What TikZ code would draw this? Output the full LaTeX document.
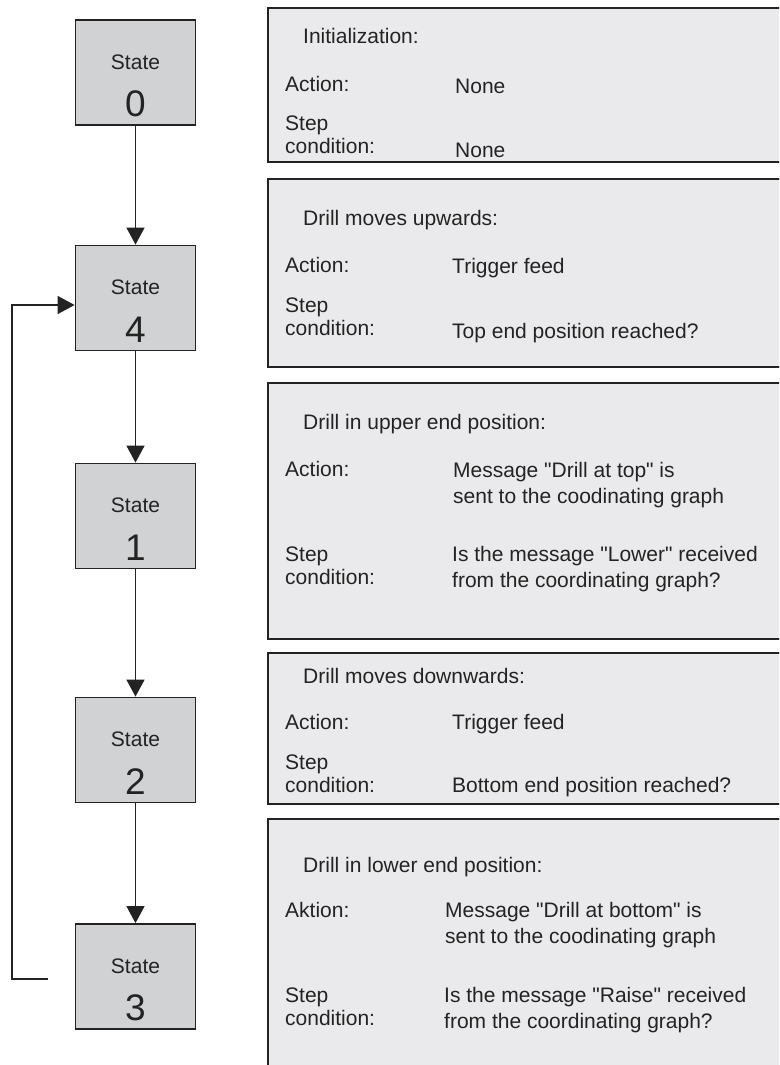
\documentclass[tikz,border=0pt]{standalone}
\usepackage{fontspec}
\setmainfont{Liberation Sans}
\usetikzlibrary{arrows.meta,positioning}
\definecolor{statefill}{RGB}{209,210,212}
\definecolor{panelfill}{RGB}{234,234,236}
\definecolor{ink}{RGB}{35,35,35}

\begin{document}
\begin{tikzpicture}[x=1pt,y=-1pt,
    statebox/.style={draw=ink,line width=1.8pt,fill=statefill,minimum width=120pt,minimum height=105pt,inner sep=0pt},
    panel/.style={draw=ink,line width=1.8pt,fill=panelfill,anchor=north west,inner sep=0pt,minimum width=540pt},
    txt/.style={anchor=base west,inner sep=0pt,text=ink,align=left,font=\fontsize{21}{22.5}\selectfont},
    vtxt/.style={txt,font=\fontsize{21}{25.5}\selectfont},
    num/.style={anchor=base,inner sep=0pt,text=ink,font=\fontsize{37}{40}\selectfont},
    arr/.style={-{Triangle[length=17pt,width=18pt]},line width=1.3pt,draw=ink}]
             \useasboundingbox (0,0) rectangle (779,1065);
             \clip (0,0) rectangle (779,1065);
             % states
             \foreach \n/\y in {0/72.5,4/298,1/516,2/750,3/976.5} {
               \node[statebox] (s\n) at (135.5,\y) {};
               \node[txt,anchor=base] (s\n t) at ([yshift=3.2pt]s\n.center) {State};
               \node[num] (s\n n) at ([yshift=-44pt]s\n.center) {\n};
             }
             \foreach \a/\b in {0/4,4/1,1/2,2/3}
               \draw[arr] (s\a) -- (s\b);
             \coordinate (fb) at (48,979);
             \draw[arr] (fb) -- (12,979) |- ([yshift=-7pt]s4.west);
             % panels (multi-line texts sit on their last baseline)
             \node[panel,minimum height=154pt] (p0) at (267,7) {};
             \node[txt] (p0t) at (303,44) {Initialization:};
             \node[txt] (p0a) at (285,91) {Action:};
             \node[txt] (p0av) at (455,93) {None};
             \node[txt] (p0c) at (285,153) {Step\\condition:};
             \node[txt] (p0cv) at (455,157) {None};
             \node[panel,minimum height=188pt] (p4) at (267,178) {};
             \node[txt] (p4t) at (303,225) {Drill moves upwards:};
             \node[txt] (p4a) at (285,272) {Action:};
             \node[txt] (p4av) at (452,273) {Trigger feed};
             \node[txt] (p4c) at (285,335) {Step\\condition:};
             \node[txt] (p4cv) at (452,338) {Top end position reached?};
             \node[panel,minimum height=256pt] (p1) at (267,382) {};
             \node[txt] (p1t) at (303,429) {Drill in upper end position:};
             \node[txt] (p1a) at (285,476) {Action:};
             \node[vtxt] (p1av) at (453,503) {Message \textquotedbl Drill at top\textquotedbl{} is\\sent to the coodinating graph};
             \node[txt] (p1c) at (285,584) {Step\\condition:};
             \node[vtxt] (p1cv) at (452,587) {Is the message \textquotedbl Lower\textquotedbl{} received\\from the coordinating graph?};
             \node[panel,minimum height=151pt] (p2) at (267,652) {};
             \node[txt] (p2t) at (303,683) {Drill moves downwards:};
             \node[txt] (p2a) at (285,729) {Action:};
             \node[txt] (p2av) at (452,729) {Trigger feed};
             \node[txt] (p2c) at (285,792) {Step\\condition:};
             \node[txt] (p2cv) at (452,792) {Bottom end position reached?};
             \node[panel,minimum height=300pt] (p3) at (267,818) {};
             \node[txt] (p3t) at (303,872) {Drill in lower end position:};
             \node[txt] (p3a) at (285,917) {Aktion:};
             \node[vtxt] (p3av) at (445,943) {Message \textquotedbl Drill at bottom\textquotedbl{} is\\sent to the coodinating graph};
             \node[txt] (p3c) at (285,1025) {Step\\condition:};
             \node[vtxt] (p3cv) at (444,1028) {Is the message \textquotedbl Raise\textquotedbl{} received\\from the coordinating graph?};
            \end{tikzpicture}
\end{document}
